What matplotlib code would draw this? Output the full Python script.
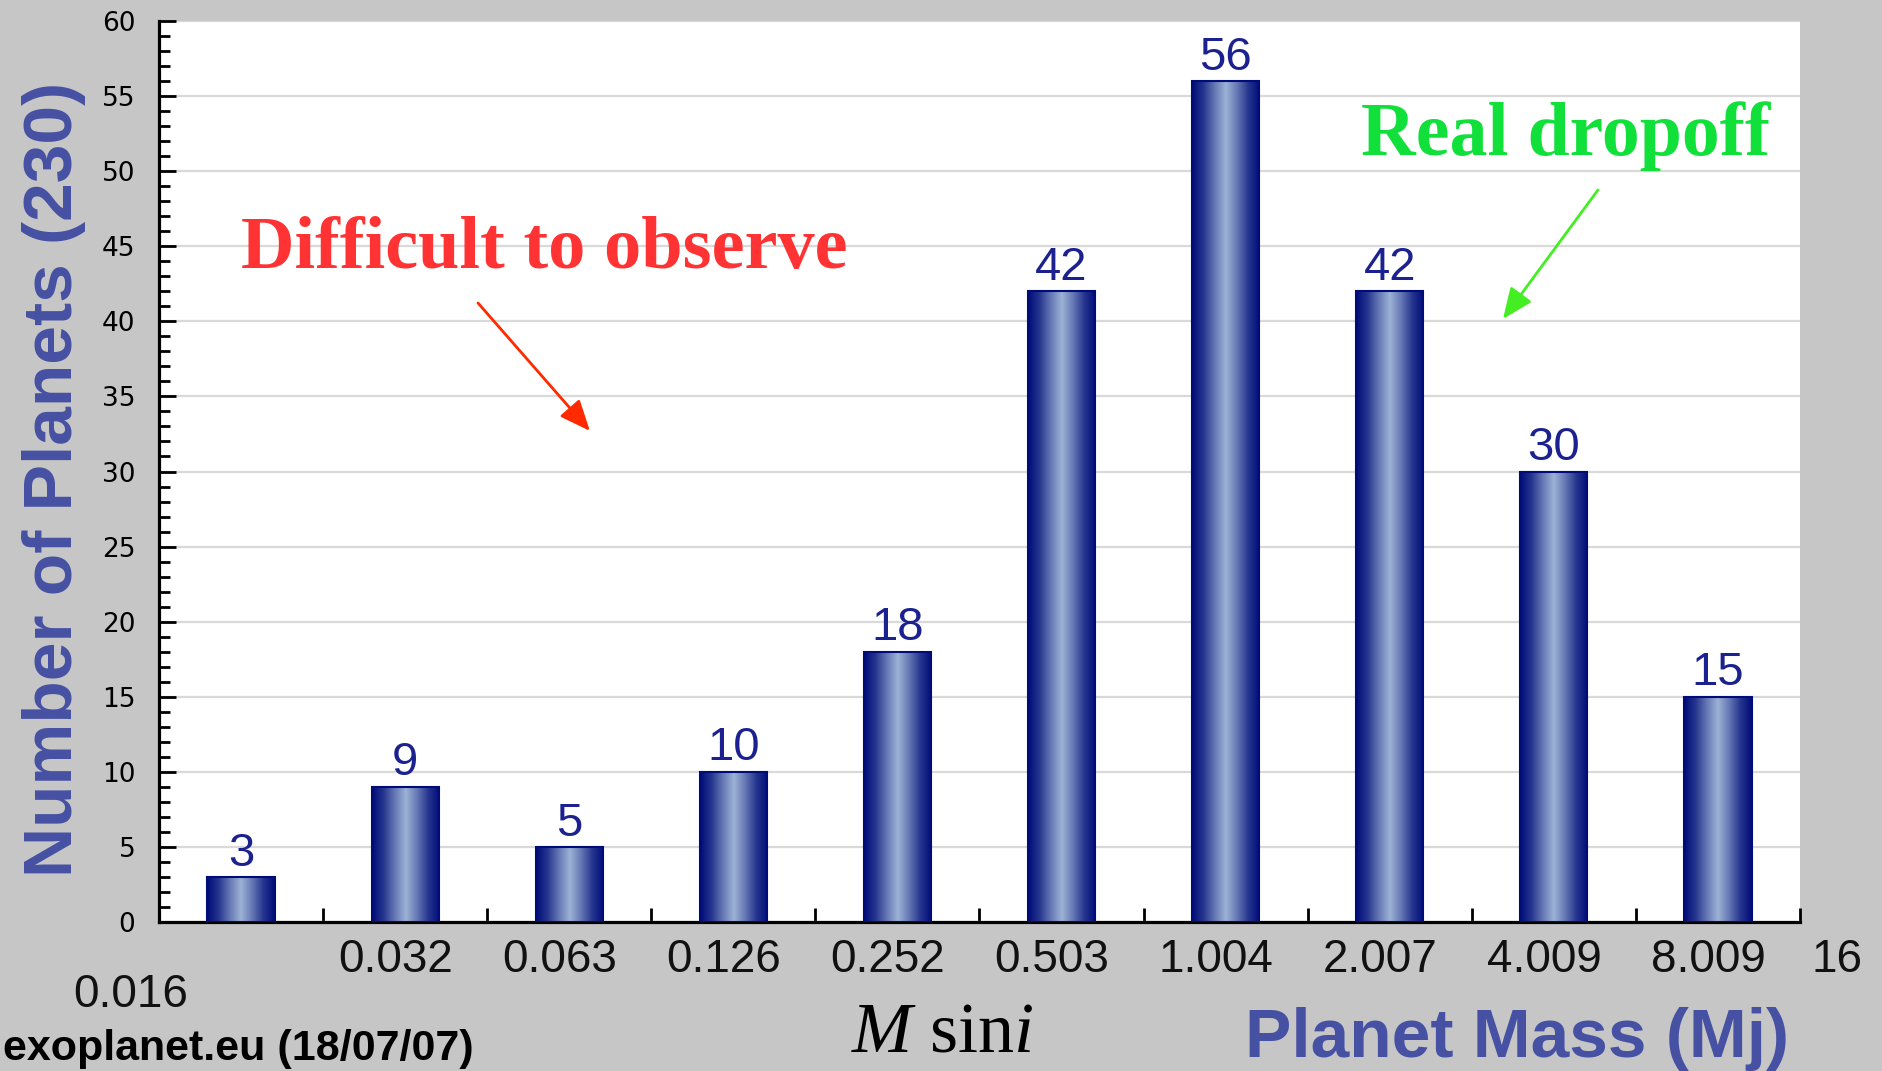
import matplotlib
matplotlib.use('Agg')
import matplotlib.pyplot as plt
from matplotlib.colors import LinearSegmentedColormap
import numpy as np

# exoplanet mass histogram (exoplanet.eu, 18/07/07)
counts = [3, 9, 5, 10, 18, 42, 56, 42, 30, 15]
edgeLabels = ['0.032', '0.063', '0.126', '0.252', '0.503', '1.004', '2.007', '4.009', '8.009']
firstLabel = '0.016'
lastLabel = '16'

plt.rcParams['font.family'] = ['Liberation Sans', 'DejaVu Sans']
plt.rcParams['mathtext.fontset'] = 'custom'
plt.rcParams['mathtext.rm'] = 'Liberation Serif'
plt.rcParams['mathtext.it'] = 'Liberation Serif:italic'

navy = '#000c78'
labelBlue = '#4651a3'
bg = '#c6c6c6'

fig = plt.figure(figsize=(18.83, 10.71), dpi=100, facecolor=bg)
ax = fig.add_axes([159/1883, 1 - 922/1071, (1800 - 159)/1883, 901/1071])
ax.set_facecolor('white')

x = np.arange(len(counts))
w = 0.41
bars = ax.bar(x, counts, w, color='none', edgecolor=navy, linewidth=1.5, zorder=4)

cmap = LinearSegmentedColormap.from_list(
    'barGrad', ['#000c78', '#25348e', '#6577b4', '#9db2d6', '#6577b4', '#25348e', '#000c78'])
grad = np.linspace(0, 1, 256).reshape(1, -1)
for b in bars:
    im = ax.imshow(grad, cmap=cmap, aspect='auto', zorder=3,
                   extent=[b.get_x(), b.get_x() + b.get_width(), 0, b.get_height()])
    im.set_clip_path(b)

ax.bar_label(bars, padding=1, fontsize=34, color='#1c2190')

ax.set_xlim(-0.5, len(counts) - 0.5)
ax.set_ylim(0, 60)

# y axis
ax.set_yticks(np.arange(0, 61, 5))
ax.set_yticks(np.arange(0, 61, 1), minor=True)
ax.tick_params(axis='y', which='major', direction='in', length=12, width=2, pad=17,
               labelsize=19)
ax.tick_params(axis='y', which='minor', direction='in', length=8, width=2)
for t in ax.get_yticklabels():
    t.set_fontfamily('DejaVu Sans')
ax.yaxis.grid(True, which='major', color='#d9d9d9', linewidth=1.6)
ax.set_axisbelow(True)

# x axis: marks between bars, labels drawn as text
ax.set_xticks(np.arange(len(counts)) + 0.5)
ax.set_xticklabels([])
ax.tick_params(axis='x', direction='in', length=10, width=2)

for s in ['top', 'right']:
    ax.spines[s].set_visible(False)
for s in ['left', 'bottom']:
    ax.spines[s].set_linewidth(2.3)
    ax.spines[s].set_color('black')

xt = ax.get_xaxis_transform()
for i, lab in enumerate(edgeLabels):
    ax.text(i + 1 - 0.06, -0.0555, lab, transform=xt, ha='center', va='baseline',
            fontsize=33, color='#111111', clip_on=False)
ax.text(-0.67, -0.0943, firstLabel, transform=xt, ha='center', va='baseline',
        fontsize=33, color='#111111', clip_on=False)
ax.text(9.725, -0.0555, lastLabel, transform=xt, ha='center', va='baseline',
        fontsize=33, color='#111111', clip_on=False)

# annotations
ax.text(0.0, 43.55, 'Difficult to observe', fontsize=53.5, fontweight='bold',
        family='Liberation Serif', color='#ff3333', ha='left', va='baseline')
ax.annotate('', xy=(2.126, 32.7), xytext=(1.444, 41.22),
            arrowprops=dict(arrowstyle='-|>,head_length=0.4,head_width=0.17',
                            mutation_scale=47, color='#ff2a00', lw=2,
                            shrinkA=0, shrinkB=0))
ax.text(6.825, 51.08, 'Real dropoff', fontsize=54.5, fontweight='bold',
        family='Liberation Serif', color='#11e03a', ha='left', va='baseline')
ax.annotate('', xy=(7.69, 40.16), xytext=(8.269, 48.75),
            arrowprops=dict(arrowstyle='-|>,head_length=0.4,head_width=0.17',
                            mutation_scale=47, color='#44ee22', lw=2,
                            shrinkA=0, shrinkB=0))

# axis titles
fig.text(72/1883, 1 - 877/1071, 'Number of Planets (230)', rotation=90,
         rotation_mode='anchor', ha='left', va='baseline', fontsize=50,
         fontweight='bold', color=labelBlue)
fig.text(1245/1883, 1 - 1057/1071, 'Planet Mass (Mj)', ha='left', va='baseline',
         fontsize=50, fontweight='bold', color=labelBlue)
fig.text(942/1883, 1 - 1052/1071, r'$M\ \mathrm{sin}i$', ha='center', va='baseline',
         fontsize=52, color='black')
fig.text(3/1883, 1 - 1060/1071, 'exoplanet.eu (18/07/07)', ha='left', va='baseline',
         fontsize=31, fontweight='bold', color='black')

plt.savefig('out.png', dpi=100, facecolor=bg)
